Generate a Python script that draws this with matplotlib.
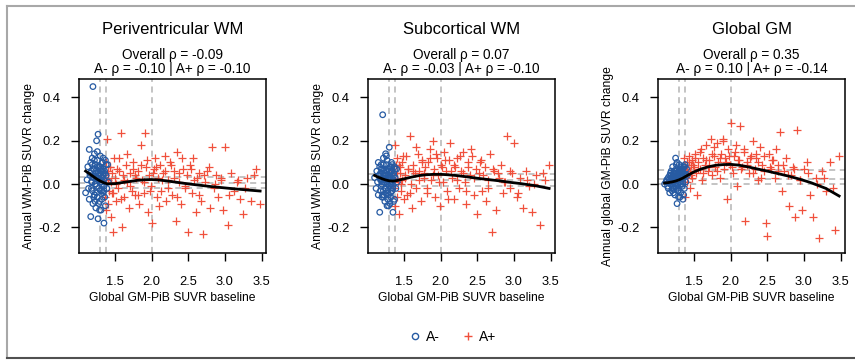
import matplotlib.pyplot as plt
from matplotlib.lines import Line2D

plt.rcParams["font.family"] = ["Liberation Sans", "DejaVu Sans"]

PANEL_TITLES = ["Periventricular WM", "Subcortical WM", "Global GM"]
RHO_OVERALL = ["-0.09", "0.07", "0.35"]
RHO_NEG = ["-0.10", "-0.03", "0.10"]
RHO_POS = ["-0.10", "-0.10", "-0.14"]
Y_LABELS = [
    "Annual WM-PiB SUVR change",
    "Annual WM-PiB SUVR change",
    "Annual global GM-PiB SUVR change",
]
X_LABEL = "Global GM-PiB SUVR baseline"
X_TICKS = [1.5, 2.0, 2.5, 3.0, 3.5]
Y_TICKS = [-0.2, 0.0, 0.2, 0.4]

# cut-offs on baseline SUVR
V_LINES = [1.29, 1.38, 2.0]
# reference bands on the annual change, per panel
H_LINES = [
    [0.035, 0.005, -0.02],
    [0.045, 0.02, -0.01],
    [0.065, 0.022, 0.0],
]

# amyloid-negative baseline SUVR (shared by all panels)
neg_x = [
    1.10, 1.12, 1.13, 1.14, 1.15, 1.15, 1.16, 1.17, 1.17, 1.18,
    1.18, 1.19, 1.19, 1.20, 1.20, 1.21, 1.21, 1.22, 1.22, 1.23,
    1.23, 1.24, 1.24, 1.25, 1.25, 1.26, 1.26, 1.27, 1.27, 1.28,
    1.28, 1.29, 1.29, 1.30, 1.30, 1.31, 1.31, 1.32, 1.32, 1.33,
    1.33, 1.34, 1.34, 1.35, 1.35, 1.36, 1.37, 1.38, 1.39, 1.41,
    1.16, 1.18, 1.19, 1.20, 1.21, 1.22, 1.23, 1.24, 1.25, 1.26,
    1.27, 1.28, 1.29, 1.30, 1.31, 1.32, 1.33, 1.34, 1.35, 1.36,
    1.22, 1.24, 1.26, 1.28, 1.30, 1.32, 1.34, 1.36, 1.38, 1.40,
    1.19, 1.21, 1.23, 1.25, 1.27, 1.29, 1.31, 1.33, 1.35, 1.37,
]
neg_y_pv = [
    -0.04, 0.02, 0.08, -0.02, 0.16, -0.07, 0.04, 0.10, -0.15, 0.01,
    0.06, -0.03, 0.12, 0.45, -0.09, 0.03, 0.07, -0.05, 0.14, 0.00,
    0.09, -0.11, 0.05, 0.20, -0.01, 0.11, -0.06, 0.23, -0.16, 0.04,
    0.08, -0.08, 0.02, 0.13, -0.03, -0.12, 0.06, 0.01, -0.07, 0.10,
    0.03, -0.04, 0.07, -0.18, 0.02, 0.05, -0.10, 0.09, -0.02, 0.01,
    0.05, -0.02, 0.09, 0.03, -0.06, 0.11, 0.00, 0.06, -0.04, 0.08,
    0.02, -0.09, 0.05, 0.01, 0.07, -0.03, 0.10, 0.04, -0.01, 0.06,
    -0.05, 0.03, 0.15, -0.02, 0.08, 0.00, 0.12, -0.06, 0.04, 0.09,
    0.01, 0.07, -0.08, 0.03, 0.05, -0.12, 0.02, 0.06, -0.03, 0.11,
]
neg_y_sc = [
    0.03, -0.02, 0.06, 0.01, 0.10, -0.05, 0.04, 0.08, -0.13, 0.02,
    0.05, -0.01, 0.09, 0.00, -0.06, 0.32, 0.07, -0.03, 0.12, 0.01,
    0.06, -0.08, 0.04, 0.14, -0.02, 0.09, -0.04, 0.11, -0.10, 0.03,
    0.07, -0.05, 0.02, 0.17, -0.01, -0.09, 0.05, 0.00, -0.06, 0.08,
    0.03, -0.03, 0.06, -0.13, 0.02, 0.04, -0.07, 0.07, -0.02, 0.01,
    0.04, -0.03, 0.07, 0.01, -0.05, 0.09, 0.02, 0.05, -0.02, 0.06,
    0.00, -0.07, 0.04, 0.03, 0.08, -0.04, 0.10, 0.01, -0.01, 0.05,
    -0.06, 0.02, 0.13, -0.03, 0.06, 0.00, 0.09, -0.08, 0.03, 0.07,
    0.02, 0.05, -0.05, 0.04, 0.01, -0.10, 0.03, 0.06, -0.02, 0.08,
]
neg_y_gm = [
    0.00, 0.01, 0.02, -0.01, 0.03, -0.02, 0.01, 0.04, -0.04, 0.02,
    0.05, 0.00, 0.06, 0.03, -0.03, 0.02, 0.08, -0.01, 0.04, 0.01,
    0.06, -0.05, 0.03, 0.12, 0.00, 0.07, -0.02, 0.10, -0.09, 0.04,
    0.05, -0.03, 0.02, 0.09, 0.01, -0.06, 0.06, 0.03, -0.04, 0.08,
    0.04, -0.01, 0.07, -0.07, 0.03, 0.05, -0.02, 0.09, 0.01, 0.04,
    0.02, 0.00, 0.04, 0.01, -0.02, 0.05, 0.02, 0.03, -0.01, 0.06,
    0.03, -0.03, 0.04, 0.02, 0.07, 0.00, 0.05, 0.03, 0.01, 0.08,
    -0.04, 0.02, 0.09, -0.01, 0.05, 0.03, 0.06, -0.05, 0.04, 0.07,
    0.01, 0.03, -0.02, 0.05, 0.02, -0.06, 0.04, 0.06, 0.00, 0.08,
]

# amyloid-positive baseline SUVR (shared by all panels)
pos_x = [
    1.36, 1.37, 1.38, 1.38, 1.39, 1.40, 1.41, 1.41, 1.42, 1.43, 1.44, 1.45, 1.46, 1.47, 1.48, 1.50,
    1.51, 1.53, 1.54, 1.56, 1.58, 1.60, 1.61, 1.63, 1.65, 1.67, 1.69, 1.71, 1.73, 1.75, 1.77, 1.79,
    1.81, 1.83, 1.85, 1.87, 1.89, 1.91, 1.93, 1.95, 1.97, 1.99, 2.01, 2.03, 2.05, 2.07, 2.09, 2.11,
    2.13, 2.15, 2.18, 2.20, 2.23, 2.25, 2.28, 2.30, 2.33, 2.35, 2.38, 2.40, 2.43, 2.45, 2.48, 2.50,
    2.52, 2.55, 2.57, 2.60, 2.62, 2.65, 2.68, 2.70, 2.73, 2.76, 2.79, 2.82, 2.85, 2.88,
    2.91, 2.94, 2.97, 3.00, 3.04, 3.08, 3.12, 3.16, 3.20, 3.25, 3.30, 3.36, 3.42, 3.48,
    1.40, 1.43, 1.46, 1.49, 1.52, 1.55, 1.58, 1.62, 1.66, 1.70,
    1.74, 1.78, 1.82, 1.86, 1.90, 1.94, 1.98, 2.02, 2.06, 2.10,
    2.14, 2.18, 2.22, 2.26, 2.30, 2.34, 2.38, 2.42, 2.46, 2.54,
    2.58, 2.64, 2.72, 2.78, 2.86, 2.95, 3.06, 3.18, 3.28, 3.40,
]
pos_y_pv = [
    0.04, -0.06, 0.10, -0.12, 0.21, 0.02, -0.09, 0.06, -0.03, 0.08, -0.15, 0.01, 0.05, -0.04, -0.22, 0.03,
    -0.08, 0.07, -0.02, 0.12, 0.235, -0.20, 0.04, -0.06, 0.09, 0.01, -0.11, 0.05, -0.03, 0.10, -0.05, 0.03,
    0.06, -0.09, 0.18, 0.02, -0.04, 0.235, 0.08, -0.13, 0.04, -0.01, -0.18, 0.07, 0.12, -0.06, 0.03, 0.09,
    -0.03, 0.05, 0.13, -0.08, 0.02, 0.10, -0.05, 0.06, -0.17, 0.15, 0.01, -0.09, 0.07, -0.02, 0.04, -0.22,
    0.09, -0.04, 0.12, -0.13, 0.03, 0.05, -0.08, -0.23, 0.01, 0.06, -0.11, 0.17, -0.02, 0.04,
    -0.06, 0.02, -0.12, 0.17, -0.19, 0.05, -0.03, 0.01, -0.07, -0.14, 0.03, -0.08, 0.07, -0.09,
    0.03, 0.08, -0.04, 0.12, 0.00, 0.06, -0.07, 0.02, 0.14, -0.01,
    0.07, 0.04, -0.05, 0.09, 0.01, 0.11, -0.03, 0.05, 0.08, -0.10,
    0.02, 0.06, -0.02, 0.09, 0.03, -0.06, 0.05, 0.12, -0.01, 0.07,
    0.02, -0.05, 0.04, 0.08, 0.00, 0.03, -0.05, 0.02, -0.02, 0.04,
]
pos_y_sc = [
    0.06, -0.02, 0.18, -0.10, 0.09, 0.03, -0.06, 0.12, 0.01, -0.14, 0.05, 0.08, -0.03, 0.02, 0.10, -0.07,
    0.04, 0.13, -0.05, 0.07, 0.22, 0.00, -0.11, 0.09, 0.05, -0.02, 0.14, 0.06, -0.08, 0.11, 0.03, 0.08,
    -0.04, 0.10, 0.16, 0.02, 0.20, 0.07, -0.06, 0.12, 0.04, -0.10, 0.09, 0.01, 0.15, 0.06, -0.03, 0.11,
    0.19, 0.03, -0.07, 0.08, 0.12, -0.02, 0.06, 0.15, 0.01, -0.09, 0.10, 0.04, 0.13, -0.05, 0.07, -0.14,
    0.05, 0.11, -0.03, 0.08, -0.08, 0.02, 0.14, -0.22, 0.06, -0.12, 0.03, 0.09, -0.04, 0.01,
    0.22, -0.02, 0.05, 0.19, -0.06, 0.03, -0.11, 0.06, -0.01, -0.13, 0.04, -0.19, 0.02, 0.09,
    0.05, 0.09, 0.00, 0.13, 0.03, 0.07, -0.04, 0.06, 0.17, 0.02,
    0.10, 0.05, -0.02, 0.12, 0.04, 0.14, 0.01, 0.08, 0.11, -0.07,
    0.06, 0.09, 0.02, 0.13, 0.05, -0.03, 0.08, 0.16, 0.03, 0.10,
    0.04, -0.02, 0.07, 0.05, 0.01, 0.06, -0.04, 0.02, 0.00, 0.05,
]
pos_y_gm = [
    0.12, 0.03, 0.08, -0.06, 0.05, 0.10, 0.01, 0.07, 0.04, 0.13, 0.06, -0.02, 0.09, 0.11, 0.03, 0.08,
    0.14, 0.05, -0.05, 0.10, 0.07, 0.16, 0.02, 0.12, 0.09, 0.18, 0.06, 0.11, 0.21, 0.04, 0.13, 0.08,
    0.19, 0.10, 0.03, 0.14, 0.21, 0.07, 0.12, -0.07, 0.16, 0.09, 0.28, 0.05, 0.13, 0.18, -0.01, 0.11,
    0.27, 0.08, 0.15, -0.17, 0.10, 0.05, 0.13, 0.20, 0.07, 0.12, 0.02, 0.17, 0.09, 0.06, -0.18, -0.24,
    0.14, 0.07, 0.11, 0.03, 0.16, 0.09, 0.24, -0.03, 0.06, 0.12, -0.10, 0.04, 0.08, -0.15,
    0.25, 0.02, -0.12, 0.07, 0.10, -0.05, -0.15, 0.03, -0.25, 0.06, -0.03, 0.10, -0.21, 0.13,
    0.06, 0.10, 0.04, 0.09, 0.12, 0.07, 0.15, 0.05, 0.11, 0.08,
    0.14, 0.17, 0.06, 0.12, 0.20, 0.10, 0.13, 0.08, 0.15, 0.11,
    0.07, 0.16, 0.09, 0.12, 0.05, 0.14, 0.10, 0.03, 0.13, 0.08,
    0.11, 0.06, 0.09, 0.04, 0.07, 0.02, 0.05, 0.00, 0.03, -0.02,
]

# loess fits
smooth_x = [1.10, 1.15, 1.20, 1.25, 1.30, 1.35, 1.40, 1.50, 1.60, 1.70, 1.80, 1.90, 2.00,
            2.10, 2.20, 2.35, 2.50, 2.65, 2.80, 2.95, 3.10, 3.30, 3.48]
smooth_pv = [0.060, 0.048, 0.036, 0.024, 0.014, 0.006, 0.001, 0.002, 0.007, 0.012, 0.017, 0.020, 0.021,
             0.019, 0.015, 0.008, 0.001, -0.005, -0.011, -0.016, -0.021, -0.027, -0.032]
smooth_sc = [0.040, 0.032, 0.025, 0.019, 0.015, 0.014, 0.016, 0.024, 0.032, 0.039, 0.043, 0.045, 0.045,
             0.043, 0.040, 0.034, 0.027, 0.021, 0.015, 0.008, 0.002, -0.008, -0.020]
smooth_gm = [0.005, 0.007, 0.010, 0.014, 0.020, 0.028, 0.038, 0.056, 0.070, 0.080, 0.087, 0.090, 0.091,
             0.088, 0.082, 0.071, 0.060, 0.048, 0.036, 0.022, 0.006, -0.020, -0.055]

NEG_Y = [neg_y_pv, neg_y_sc, neg_y_gm]
POS_Y = [pos_y_pv, pos_y_sc, pos_y_gm]
SMOOTH_Y = [smooth_pv, smooth_sc, smooth_gm]

BLUE = "#275ba3"
RED = "#f0503c"
GRAY = "#b4b4b4"

W, H = 855, 360
fig = plt.figure(figsize=(W / 100, H / 100), dpi=100)

panel_left = [79, 368, 658]
ax_w, ax_top, ax_bot = 187, 79, 253

for i in range(3):
    ax = fig.add_axes([
        panel_left[i] / W,
        (H - ax_bot) / H,
        ax_w / W,
        (ax_bot - ax_top) / H,
    ])
    ax.set_xlim(1.01, 3.56)
    ax.set_ylim(-0.318, 0.485)

    for v in V_LINES:
        ax.axvline(v, color=GRAY, lw=1.1, ls=(0, (4, 3)), zorder=1)
    for h in H_LINES[i]:
        ax.axhline(h, color=GRAY, lw=1.1, ls=(0, (4, 3)), zorder=1)

    ax.scatter(pos_x, POS_Y[i], marker="+", s=30, color=RED, linewidths=0.9, zorder=2)
    ax.scatter(neg_x, NEG_Y[i], marker="o", s=16, facecolors="none", edgecolors=BLUE,
               linewidths=0.9, zorder=3)
    ax.plot(smooth_x, SMOOTH_Y[i], color="black", lw=2, zorder=4)

    ax.set_xticks(X_TICKS)
    ax.set_xticklabels([f"{t:.1f}" for t in X_TICKS])
    ax.set_yticks(Y_TICKS)
    ax.set_yticklabels([f"{t:.1f}" for t in Y_TICKS])
    ax.tick_params(direction="out", length=6, width=1, labelsize=9.3, pad=7, colors="black")
    ax.tick_params(axis="x", pad=10.5)
    for sp in ax.spines.values():
        sp.set_linewidth(1.1)

    ax.text(0.5, -0.26, X_LABEL, transform=ax.transAxes, ha="center", va="center", fontsize=8.7)
    ax.text(-0.27, 0.5, Y_LABELS[i], transform=ax.transAxes, ha="center", va="center",
            rotation=90, fontsize=8.7)
    ax.text(0.5, 1.282, PANEL_TITLES[i], transform=ax.transAxes, ha="center", va="center",
            fontsize=12)
    ax.text(0.5, 1.138, f"Overall ρ = {RHO_OVERALL[i]}", transform=ax.transAxes,
            ha="center", va="center", fontsize=9.8)
    ax.text(0.5, 1.057, f"A- ρ = {RHO_NEG[i]} | A+ ρ = {RHO_POS[i]}", transform=ax.transAxes,
            ha="center", va="center", fontsize=9.8)

handles = [
    Line2D([], [], marker="o", ls="none", markerfacecolor="none", markeredgecolor=BLUE,
           markersize=4.5, markeredgewidth=1, label="A-"),
    Line2D([], [], marker="+", ls="none", color=RED, markersize=6, markeredgewidth=1, label="A+"),
]
fig.legend(handles=handles, loc="center", bbox_to_anchor=(452 / W, 1 - 337 / H), ncol=2,
           frameon=False, fontsize=10, handletextpad=0.3, columnspacing=1.5, handlelength=1)

# frame around the whole figure
fig.add_artist(Line2D([7 / W, 1], [1 - 6 / H, 1 - 6 / H], color="#a8a8a8", lw=1.5))
fig.add_artist(Line2D([7 / W, 7 / W], [1 - 6 / H, 1 - 358 / H], color="#a8a8a8", lw=1.5))
fig.add_artist(Line2D([7 / W, 1], [1 - 358 / H, 1 - 358 / H], color="#505050", lw=1.5))

fig.savefig("out.png", dpi=100)
